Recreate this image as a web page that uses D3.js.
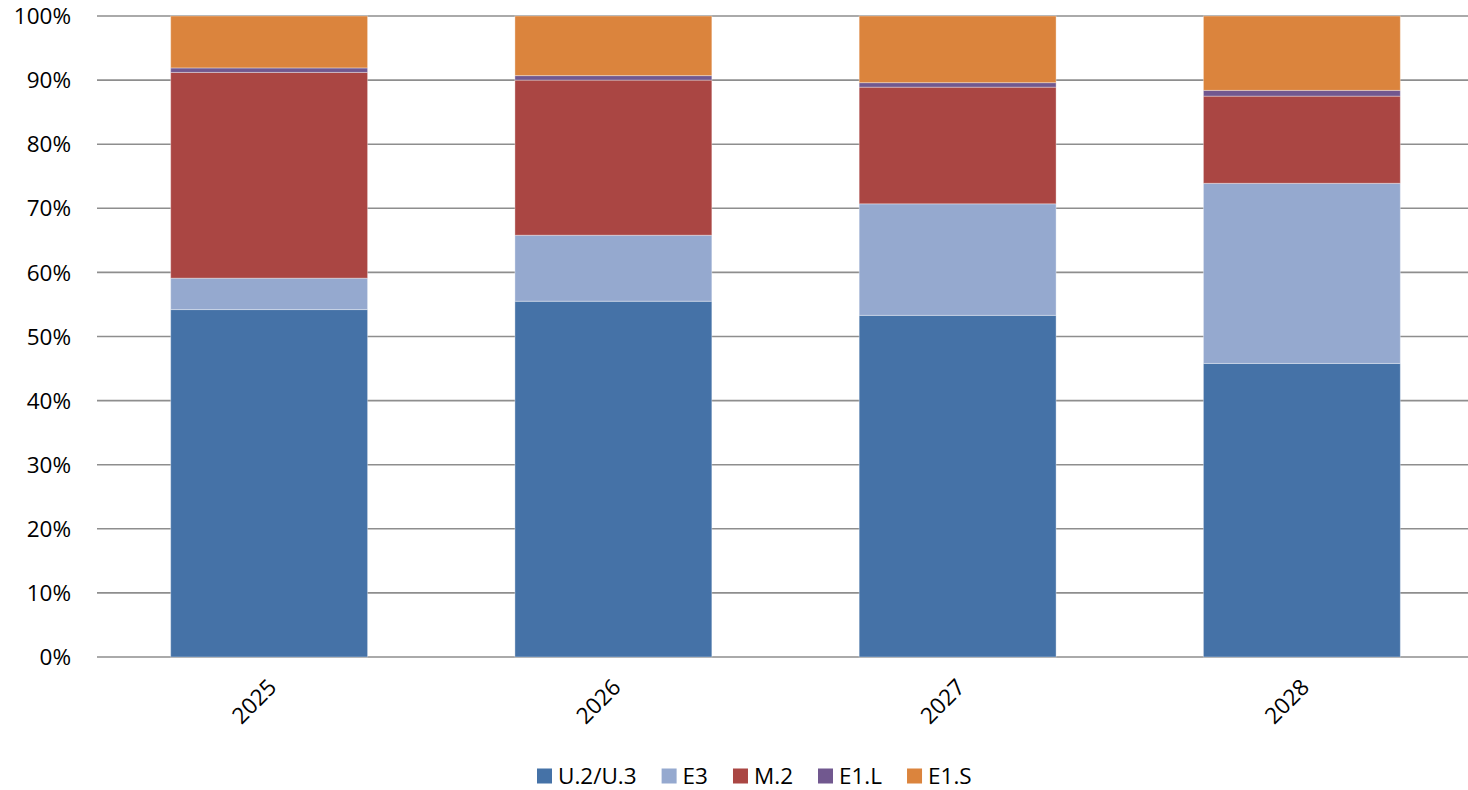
<!DOCTYPE html>
<html>
<head>
<meta charset="utf-8">
<script src="https://cdn.jsdelivr.net/npm/d3@7"></script>
<style>
  html, body { margin: 0; padding: 0; background: #fff; }
  svg { display: block; }
  text { font-family: "Open Sans", "Liberation Sans", sans-serif; fill: #000; }
</style>
</head>
<body>
<svg id="chart" width="1468" height="790"></svg>
<script>
// ---- data ----
const categories = ["2025", "2026", "2027", "2028"];
const seriesNames = ["U.2/U.3", "E3", "M.2", "E1.L", "E1.S"];
const seriesColors = ["#4572A7", "#95A9CF", "#AA4643", "#71588F", "#DB843D"];
const u2u3 = [54.2, 55.5, 53.3, 45.8];
const e3   = [4.9, 10.3, 17.4, 28.1];
const m2   = [32.1, 24.2, 18.2, 13.6];
const e1l  = [0.7, 0.7, 0.7, 0.9];
const e1s  = [8.1, 9.3, 10.4, 11.6];
const yTicks = [0, 10, 20, 30, 40, 50, 60, 70, 80, 90, 100];

const seriesValues = [u2u3, e3, m2, e1l, e1s];
const rows = categories.map((c, i) => {
  const r = { cat: c };
  seriesNames.forEach((s, j) => r[s] = seriesValues[j][i]);
  return r;
});

const svg = d3.select("#chart");
const W = 1468, H = 790;
const plotLeft = 97, plotRight = 1474, plotTop = 16, plotBottom = 657;
const x = d3.scaleBand().domain(categories)
  .range([plotLeft, plotRight])
  .paddingInner(0.428).paddingOuter(0.214);
const y = d3.scaleLinear().domain([0, 100]).range([plotBottom, plotTop]);

// gridlines
svg.append("g").selectAll("line").data(yTicks).join("line")
  .attr("x1", plotLeft).attr("x2", W)
  .attr("y1", d => y(d)).attr("y2", d => y(d))
  .attr("stroke", "#8e8e8e").attr("stroke-width", 1.6);

// y labels
svg.append("g").selectAll("text").data(yTicks).join("text")
  .attr("x", 71).attr("y", d => y(d))
  .attr("dy", "0.36em")
  .attr("text-anchor", "end")
  .style("font-size", "22.5px")
  .text(d => d + "%");

// stacked bars
const stack = d3.stack().keys(seriesNames)(rows);
svg.append("g").selectAll("g").data(stack).join("g")
  .attr("fill", (d, i) => seriesColors[i])
  .selectAll("rect").data(d => d).join("rect")
  .attr("x", d => x(d.data.cat))
  .attr("width", x.bandwidth())
  .attr("y", d => y(d[1]))
  .attr("height", d => y(d[0]) - y(d[1]))
  .attr("stroke", "rgba(255,255,255,0.35)")
  .attr("stroke-width", 1);

// x labels
svg.append("g").selectAll("text").data(categories).join("text")
  .attr("transform", d => `translate(${x(d) + x.bandwidth() / 2 + 3},${y(0) + 26}) rotate(-45)`)
  .attr("text-anchor", "end")
  .attr("dy", "0.36em")
  .style("font-size", "22.5px")
  .text(d => d);

// legend
const lg = svg.append("g");
let lx = 537;
const ly = 776;
seriesNames.forEach((s, i) => {
  lg.append("rect").attr("x", lx).attr("y", ly - 7.5).attr("width", 15).attr("height", 15)
    .attr("fill", seriesColors[i]);
  const t = lg.append("text").attr("x", lx + 21).attr("y", ly).attr("dy", "0.36em")
    .style("font-size", "22.5px").text(s);
  lx += 21 + t.node().getComputedTextLength() + 25;
});
</script>
</body>
</html>
